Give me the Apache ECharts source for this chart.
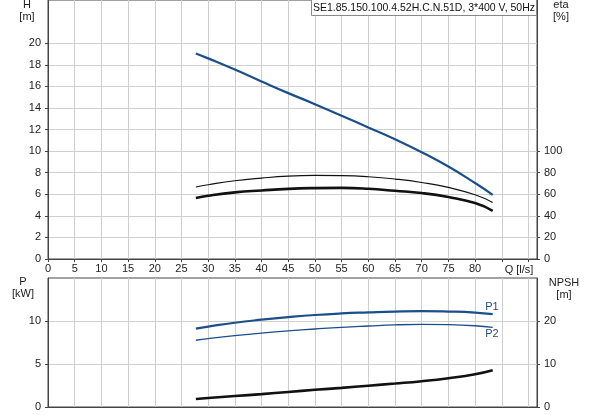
<!DOCTYPE html>
<html>
<head>
<meta charset="utf-8">
<script src="https://cdn.jsdelivr.net/npm/echarts@6/dist/echarts.min.js"></script>
<style>
html,body{margin:0;padding:0;background:#fff;}
#c{width:593px;height:415px;}
</style>
</head>
<body>
<div id="c"></div>
<script>
// ---- data (Q in l/s) ----
const qMain = [27.7, 30, 35, 40, 45, 50, 55, 60, 65, 70, 75, 80, 83.3];
const headH = [19.05, 18.59, 17.55, 16.45, 15.37, 14.35, 13.27, 12.19, 11.1, 9.9, 8.57, 7.04, 5.95];
const etaThin = [66.7, 68.8, 72.5, 75.0, 76.8, 77.4, 77.2, 76.2, 74.1, 70.9, 66.3, 59.5, 52.4];
const etaThick = [56.5, 58.6, 61.7, 63.5, 65.0, 65.7, 65.9, 65.1, 63.2, 61.1, 57.4, 51.8, 44.7];
const powerP1 = [9.12, 9.35, 9.8, 10.15, 10.45, 10.7, 10.88, 11.0, 11.1, 11.15, 11.1, 10.98, 10.8];
const powerP2 = [7.76, 7.95, 8.3, 8.6, 8.85, 9.07, 9.27, 9.42, 9.55, 9.6, 9.57, 9.45, 9.27];
const npsh = [1.86, 2.1, 2.55, 3.0, 3.5, 4.0, 4.45, 4.95, 5.45, 6.0, 6.7, 7.6, 8.53];
const qTicks = [0, 5, 10, 15, 20, 25, 30, 35, 40, 45, 50, 55, 60, 65, 70, 75, 80, 85, 90];
const qLabels = [0, 5, 10, 15, 20, 25, 30, 35, 40, 45, 50, 55, 60, 65, 70, 75, 80];
const hLabels = [0, 2, 4, 6, 8, 10, 12, 14, 16, 18, 20];
const etaLabels = [0, 20, 40, 60, 80, 100];
const pLabels = [0, 5, 10];
const npshLabels = [0, 10, 20];
const titleText = 'SE1.85.150.100.4.52H.C.N.51D, 3*400 V, 50Hz';

function pairs(xs, ys) { return xs.map((x, i) => [x, ys[i]]); }

const FONT = 'Liberation Sans, Arial, sans-serif';
const labelStyle = { fontFamily: FONT, fontSize: 11, color: '#222' };
const gridLine = { show: true, lineStyle: { color: '#cfcfcf', width: 1 } };
const axisLine = { show: true, lineStyle: { color: '#444', width: 1 } };
const BLUE = '#1b4f8a';

const chart = echarts.init(document.getElementById('c'), null, { renderer: 'canvas' });
chart.setOption({
  animation: false,
  backgroundColor: '#fff',
  grid: [
    { left: 48, top: 0, width: 489, height: 259, show: true, borderColor: '#444', borderWidth: 1, containLabel: false },
    { left: 48, top: 278, width: 489, height: 129, show: true, borderColor: '#444', borderWidth: 1, containLabel: false }
  ],
  xAxis: [
    { type: 'value', gridIndex: 0, min: 0, max: 91.6, interval: 5,
      axisLine: axisLine,
      axisTick: { show: true, length: 3, lineStyle: { color: '#444' }, customValues: qTicks },
      axisLabel: Object.assign({ margin: 4, customValues: qLabels }, labelStyle),
      splitLine: gridLine },
    { type: 'value', gridIndex: 1, min: 0, max: 91.6, interval: 5,
      axisLine: axisLine, axisTick: { show: false }, axisLabel: { show: false },
      splitLine: gridLine }
  ],
  yAxis: [
    { type: 'value', gridIndex: 0, min: 0, max: 24, interval: 2, position: 'left',
      axisLine: axisLine,
      axisTick: { show: true, length: 3, lineStyle: { color: '#444' }, customValues: hLabels },
      axisLabel: Object.assign({ margin: 7, customValues: hLabels }, labelStyle),
      splitLine: gridLine },
    { type: 'value', gridIndex: 0, min: 0, max: 240, interval: 20, position: 'right',
      axisLine: axisLine,
      axisTick: { show: true, length: 3, lineStyle: { color: '#444' }, customValues: etaLabels },
      axisLabel: Object.assign({ margin: 7, customValues: etaLabels }, labelStyle),
      splitLine: { show: false } },
    { type: 'value', gridIndex: 1, min: 0, max: 15, interval: 5, position: 'left',
      axisLine: axisLine,
      axisTick: { show: true, length: 3, lineStyle: { color: '#444' }, customValues: pLabels },
      axisLabel: Object.assign({ margin: 7, customValues: pLabels }, labelStyle),
      splitLine: gridLine },
    { type: 'value', gridIndex: 1, min: 0, max: 30, interval: 10, position: 'right',
      axisLine: axisLine,
      axisTick: { show: true, length: 3, lineStyle: { color: '#444' }, customValues: npshLabels },
      axisLabel: Object.assign({ margin: 7, customValues: npshLabels }, labelStyle),
      splitLine: { show: false } }
  ],
  series: [
    { name: 'H', type: 'line', xAxisIndex: 0, yAxisIndex: 0, data: pairs(qMain, headH),
      smooth: true, showSymbol: false, lineStyle: { color: BLUE, width: 2.2 } },
    { name: 'eta1', type: 'line', xAxisIndex: 0, yAxisIndex: 1, data: pairs(qMain, etaThin),
      smooth: true, showSymbol: false, lineStyle: { color: '#111', width: 1.2 } },
    { name: 'eta', type: 'line', xAxisIndex: 0, yAxisIndex: 1, data: pairs(qMain, etaThick),
      smooth: true, showSymbol: false, lineStyle: { color: '#111', width: 2.6 } },
    { name: 'P1', type: 'line', xAxisIndex: 1, yAxisIndex: 2, data: pairs(qMain, powerP1),
      smooth: true, showSymbol: false, lineStyle: { color: BLUE, width: 2.2 } },
    { name: 'P2', type: 'line', xAxisIndex: 1, yAxisIndex: 2, data: pairs(qMain, powerP2),
      smooth: true, showSymbol: false, lineStyle: { color: BLUE, width: 1.3 } },
    { name: 'NPSH', type: 'line', xAxisIndex: 1, yAxisIndex: 3, data: pairs(qMain, npsh),
      smooth: true, showSymbol: false, lineStyle: { color: '#111', width: 2.6 } }
  ],
  graphic: [
    { type: 'rect', shape: { x: 311.5, y: -1, width: 225, height: 16.5 },
      style: { fill: '#fff', stroke: '#888', lineWidth: 1 }, z: 100 },
    { type: 'text', x: 424, y: 8, z: 101,
      style: { text: titleText, font: '10.5px ' + FONT, fill: '#111', align: 'center', verticalAlign: 'middle' } },
    { type: 'text', x: 27, y: 5, style: { text: 'H', font: '11px ' + FONT, fill: '#222', align: 'center', verticalAlign: 'middle' } },
    { type: 'text', x: 27, y: 17, style: { text: '[m]', font: '11px ' + FONT, fill: '#222', align: 'center', verticalAlign: 'middle' } },
    { type: 'text', x: 561, y: 5, style: { text: 'eta', font: '11px ' + FONT, fill: '#222', align: 'center', verticalAlign: 'middle' } },
    { type: 'text', x: 561, y: 17, style: { text: '[%]', font: '11px ' + FONT, fill: '#222', align: 'center', verticalAlign: 'middle' } },
    { type: 'text', x: 519, y: 270, z: 101, style: { text: 'Q [l/s]', font: '11px ' + FONT, fill: '#222', align: 'center', verticalAlign: 'middle', backgroundColor: '#fff' } },
    { type: 'text', x: 23, y: 282, style: { text: 'P', font: '11px ' + FONT, fill: '#222', align: 'center', verticalAlign: 'middle' } },
    { type: 'text', x: 23, y: 294, style: { text: '[kW]', font: '11px ' + FONT, fill: '#222', align: 'center', verticalAlign: 'middle' } },
    { type: 'text', x: 564, y: 283, style: { text: 'NPSH', font: '11px ' + FONT, fill: '#222', align: 'center', verticalAlign: 'middle' } },
    { type: 'text', x: 564, y: 295, style: { text: '[m]', font: '11px ' + FONT, fill: '#222', align: 'center', verticalAlign: 'middle' } },
    { type: 'text', x: 492, y: 307, style: { text: 'P1', font: '11px ' + FONT, fill: '#2b4d7a', align: 'center', verticalAlign: 'middle' } },
    { type: 'text', x: 492, y: 334, style: { text: 'P2', font: '11px ' + FONT, fill: '#2b4d7a', align: 'center', verticalAlign: 'middle' } }
  ]
});
</script>
</body>
</html>
